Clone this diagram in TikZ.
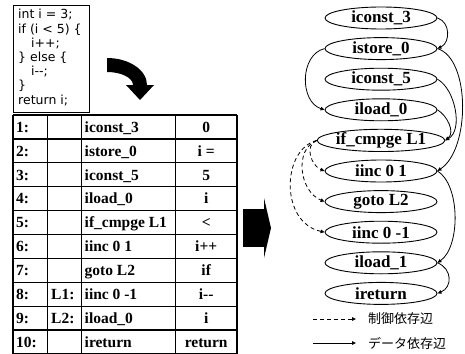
\documentclass[tikz,border=0pt]{standalone}
\usepackage{fontspec}
\setmainfont{Liberation Serif}
\newfontfamily\codefont{DejaVu Sans}
\newfontfamily\cjkfont{Noto Sans CJK JP}
\usetikzlibrary{shapes.geometric,arrows.meta}
\begin{document}
\begin{tikzpicture}[x=1pt,y=1pt,
  gnode/.style={ellipse, draw, line width=0.9pt, minimum width=112pt, minimum height=22pt, inner sep=0pt, font=\bfseries\fontsize{17}{17}\selectfont},
  dep/.style={line width=0.8pt, -{Triangle[length=4pt,width=3.5pt]}},
  cdep/.style={dep, dash pattern=on 4pt off 3pt},
  tline/.style={line width=1.3pt},
  cell/.style={font=\bfseries\fontsize{15.5}{15.5}\selectfont, inner sep=0pt},
  codeline/.style={font=\codefont\fontsize{12.5}{12.5}\selectfont, anchor=base west, inner sep=0pt},
  legend/.style={font=\cjkfont\fontsize{13}{13}\selectfont, anchor=west, inner sep=0pt}
]
\useasboundingbox (0,0) rectangle (465,-353);

% source code box
\node (codebox) [draw, line width=0.9pt, minimum width=76pt, minimum height=107pt, inner sep=0pt] at (51,-58.5) {};
\node[codeline] (c1) at (18,-19) {int i = 3;};
\node[codeline] (c2) at (18,-33.2) {if (i < 5) \{};
\node[codeline] (c3) at (31,-47.3) {i++;};
\node[codeline] (c4) at (18,-61.5) {\} else \{};
\node[codeline] (c5) at (31,-75.7) {i-{}-;};
\node[codeline] (c6) at (18,-89.8) {\}};
\node[codeline] (c7) at (18,-104) {return i;};

% bent arrow
\fill (107,-58) arc[start angle=90,end angle=0,x radius=40,y radius=27]
  -- (154,-85) -- (140,-100) -- (126,-85) -- (133,-85)
  arc[start angle=0,end angle=90,x radius=26,y radius=13] -- cycle;

% table
\foreach \yy in {0,...,10}{
  \draw[tline] (13,-115-23.9*\yy) -- (237,-115-23.9*\yy);
}
\foreach \xx in {13,47.5,81.5,175.5,237}{
  \draw[tline] (\xx,-115) -- (\xx,-354);
}
\foreach \k/\a/\b/\c/\d in {1/{1:}/{}/{iconst\_3}/{0},
  2/{2:}/{}/{istore\_0}/{i =},
  3/{3:}/{}/{iconst\_5}/{5},
  4/{4:}/{}/{iload\_0}/{i},
  5/{5:}/{}/{if\_cmpge L1}/{<},
  6/{6:}/{}/{iinc 0 1}/{i++},
  7/{7:}/{}/{goto L2}/{if},
  8/{8:}/{L1:}/{iinc 0 -1}/{i-{}-},
  9/{9:}/{L2:}/{iload\_0}/{i},
  10/{10:}/{}/{ireturn}/{return}}{
  \pgfmathsetmacro{\by}{-115-23.9*(\k-0.5)-5.3}
  \node[cell, anchor=base west] (t\k a) at (16,\by) {\a};
  \node[cell, anchor=base west] (t\k b) at (51,\by) {\b};
  \node[cell, anchor=base west] (t\k c) at (84.5,\by) {\c};
  \node[cell, anchor=base] (t\k d) at (206.2,\by) {\d};
}

% big right arrow
\fill (243,-209) rectangle (264,-247);
\fill (264,-198) -- (271,-228) -- (264,-258) -- cycle;

% graph nodes
\foreach \k/\t in {1/{iconst\_3},2/{istore\_0},3/{iconst\_5},4/{iload\_0},5/{if\_cmpge L1},
  6/{iinc 0 1},7/{goto L2},8/{iinc 0 -1},9/{iload\_1},10/{ireturn}}{
  \node[gnode] (n\k) at (381,{-18-30.6*(\k-1)}) {\t};
}

% data dependencies
\draw[dep] (n1.east) .. controls +(13,-4) and +(13,6) .. (n2.east);
\draw[dep] (n2.east) .. controls +(33,-10) and +(33,22) .. (n6.east);
\draw[dep] (n3.east) .. controls +(18,-10) and +(18,10) .. (n5.east);
\draw[dep] (n4.east) .. controls +(10,-6) and +(10,8) .. (n5.east);
\draw[dep] (n6.east) .. controls +(23,-14) and +(23,16) .. (n9.east);
\draw[dep] (n9.east) .. controls +(15,-6) and +(15,6) .. (n10.east);
\draw[dep] (n2.west) .. controls +(-25,-6) and +(-25,8) .. (n4.west);

% control dependencies
\draw[cdep] (n5.west) .. controls +(-13,-5) and +(-13,5) .. (n6.west);
\draw[cdep] (n5.west) .. controls +(-23,-9) and +(-25,10) .. (n7.west);
\draw[cdep] (n5.west) .. controls +(-35,-9) and +(-45,10) .. (n8.west);

% legend
\coordinate (la) at (313,-319);
\coordinate (lb) at (356,-319);
\coordinate (lc) at (313,-343);
\coordinate (ld) at (356,-343);
\draw[cdep] (la) -- (lb);
\draw[dep] (lc) -- (ld);
\node[legend] (lt1) at (368,-319) {制御依存辺};
\node[legend] (lt2) at (368,-343) {データ依存辺};
\end{tikzpicture}
\end{document}
